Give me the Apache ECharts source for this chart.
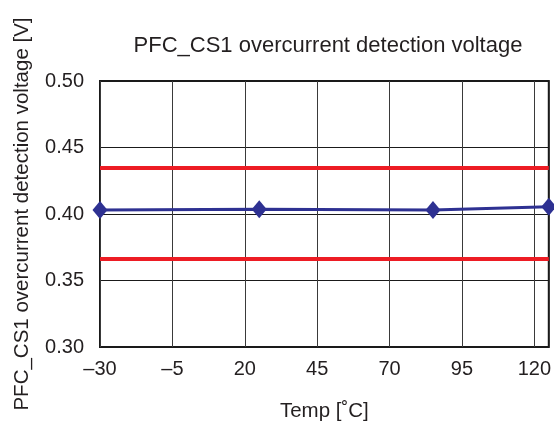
<!DOCTYPE html>
<html>
<head>
<meta charset="utf-8">
<script src="https://cdn.jsdelivr.net/npm/echarts@6/dist/echarts.min.js"></script>
<style>
html,body{margin:0;padding:0;background:#fff;}
#main{width:554px;height:427px;}
</style>
</head>
<body>
<div id="main"></div>
<script>
// Data
var temps = [-30, 25, 85, 125];
var voltage = [0.403, 0.4035, 0.403, 0.4055];
var upperLimit = 0.435;
var lowerLimit = 0.366;
var xMin = -30, xMax = 125, xStep = 25;
var yMin = 0.30, yMax = 0.50, yStep = 0.05;
var titleText = 'PFC_CS1 overcurrent detection voltage';
var xName = 'Temp [˚C]';
var yName = 'PFC_CS1 overcurrent detection voltage [V]';

// axis is offset so ticks start at xMin
var offset = xMin;
var seriesData = temps.map(function (t, i) { return [t - offset, voltage[i]]; });

var txt = '#231f20';
var font = 'Liberation Sans, Arial, Helvetica, sans-serif';
var chart = echarts.init(document.getElementById('main'), null, {renderer: 'canvas'});
chart.setOption({
  animation: false,
  backgroundColor: '#fff',
  title: {
    text: titleText,
    left: 323, top: 30, textAlign: 'center',
    textStyle: {fontFamily: font, fontSize: 22, fontWeight: 'normal', color: txt}
  },
  grid: {left: 100, right: 3, top: 81, bottom: 80, show: true, borderColor: '#1a1a1a', borderWidth: 2, backgroundColor: 'transparent'},
  xAxis: {
    type: 'value', min: 0, max: xMax - offset, interval: xStep,
    name: xName, nameLocation: 'middle', nameGap: 54,
    nameTextStyle: {fontFamily: font, fontSize: 20.5, color: txt},
    axisLine: {show: false}, axisTick: {show: false},
    axisLabel: {
      fontFamily: font, fontSize: 20, color: txt, margin: 12,
      formatter: function (v) {
        if (Math.abs(v % xStep) > 1e-9) return '';
        var t = v + offset;
        return t < 0 ? '\u2013' + Math.abs(t) : String(t);
      }
    },
    splitLine: {show: true, lineStyle: {color: '#3a3a3a', width: 1}}
  },
  yAxis: {
    type: 'value', min: yMin, max: yMax, interval: yStep,
    name: yName, nameLocation: 'middle', nameGap: 67,
    nameTextStyle: {fontFamily: font, fontSize: 20.5, color: txt},
    axisLine: {show: false}, axisTick: {show: false},
    axisLabel: {fontFamily: font, fontSize: 20, color: txt, margin: 16, padding: [4, 0, 0, 0],
      formatter: function (v) { return v.toFixed(2); }},
    splitLine: {show: true, lineStyle: {color: '#1a1a1a', width: 1}}
  },
  series: [{
    type: 'line',
    data: seriesData,
    symbol: 'diamond', symbolSize: [15, 18],
    itemStyle: {color: '#2e3192'},
    lineStyle: {color: '#2e3192', width: 3},
    z: 5,
    markLine: {
      silent: true, symbol: 'none', label: {show: false}, precision: 4,
      lineStyle: {color: '#ed1c24', width: 4, type: 'solid'},
      data: [{yAxis: upperLimit}, {yAxis: lowerLimit}]
    }
  }]
});
</script>
</body>
</html>
